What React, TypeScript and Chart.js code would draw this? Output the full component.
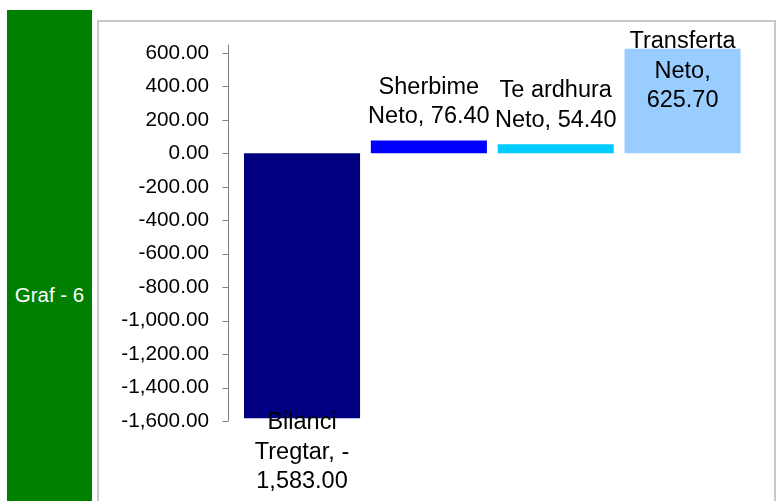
import React, { useEffect, useRef } from "react";
import { Chart, registerables } from "chart.js";

Chart.register(...registerables);

const categories = ["Bilanci Tregtar", "Sherbime Neto", "Te ardhura Neto", "Transferta Neto"];
const values = [-1583.0, 76.4, 54.4, 625.7];
const barColors = ["#000080", "#0000FF", "#00CCFF", "#99CCFF"];
const yTickValues = [600, 400, 200, 0, -200, -400, -600, -800, -1000, -1200, -1400, -1600];
const yMin = -1600;
const yMax = 650;
const sideTitle = "Graf - 6";

const FONT = "'Liberation Sans', Arial, Helvetica, sans-serif";

function fmt(v: number): string {
  return v.toLocaleString("en-US", { minimumFractionDigits: 2, maximumFractionDigits: 2 });
}

function wrap(ctx: CanvasRenderingContext2D, text: string, maxW: number): string[] {
  const units: { t: string; sep: string }[] = [];
  text.split(" ").forEach((word, wi) => {
    const parts = word.split(/(?<=-)/);
    parts.forEach((p, pi) => {
      if (p.length) units.push({ t: p, sep: wi > 0 && pi === 0 ? " " : "" });
    });
  });
  const lines: string[] = [];
  let line = "";
  units.forEach((u, i) => {
    if (i === 0) {
      line = u.t;
      return;
    }
    const cand = line + u.sep + u.t;
    if (ctx.measureText(cand).width <= maxW) line = cand;
    else {
      lines.push(line);
      line = u.t;
    }
  });
  if (line) lines.push(line);
  return lines;
}

const axisPlugin = {
  id: "excelAxis",
  afterDatasetsDraw(chart: any) {
    const { ctx, chartArea, scales } = chart;
    const y = scales.y;
    const x0 = Math.floor(chartArea.left - 10) + 0.5;
    ctx.save();
    ctx.strokeStyle = "#808080";
    ctx.lineWidth = 1;
    ctx.beginPath();
    ctx.moveTo(x0, chartArea.top);
    ctx.lineTo(x0, chartArea.bottom);
    yTickValues.forEach((v) => {
      const py = Math.round(y.getPixelForValue(v)) + 0.5;
      ctx.moveTo(x0 - 6, py);
      ctx.lineTo(x0, py);
    });
    ctx.stroke();
    ctx.restore();
  },
};

const labelPlugin = {
  id: "excelLabels",
  afterDatasetsDraw(chart: any) {
    const { ctx, chartArea } = chart;
    const meta = chart.getDatasetMeta(0);
    ctx.save();
    ctx.font = `23.5px ${FONT}`;
    ctx.fillStyle = "#000000";
    ctx.textAlign = "center";
    ctx.textBaseline = "alphabetic";
    const lh = 29.5;
    meta.data.forEach((bar: any, i: number) => {
      const v = values[i];
      const lines = wrap(ctx, `${categories[i]}, ${fmt(v)}`, 128);
      let first: number;
      if (v >= 0) {
        const last = bar.y - 17.5;
        first = last - (lines.length - 1) * lh;
        const minFirst = chartArea.top + 3.5;
        if (first < minFirst) first = minFirst;
      } else {
        first = bar.y + 11;
      }
      lines.forEach((l, k) => ctx.fillText(l, bar.x, first + k * lh));
    });
    ctx.restore();
  },
};

export default function App() {
  const canvasRef = useRef<HTMLCanvasElement | null>(null);

  useEffect(() => {
    if (!canvasRef.current) return;
    const chart = new Chart(canvasRef.current, {
      type: "bar",
      data: {
        labels: categories,
        datasets: [
          {
            data: values,
            backgroundColor: barColors,
            borderWidth: 0,
            barPercentage: 0.915,
            categoryPercentage: 1,
          },
        ],
      },
      options: {
        responsive: false,
        animation: false,
        devicePixelRatio: 1,
        layout: { padding: { left: 0, top: 44.6, bottom: 80, right: 32 } },
        plugins: { legend: { display: false }, tooltip: { enabled: false } },
        scales: {
          x: { type: "category", display: false, offset: true },
          y: {
            min: yMin,
            max: yMax,
            afterFit: (axis: any) => {
              axis.width = 238.6;
            },
            afterBuildTicks: (axis: any) => {
              axis.ticks = yTickValues.map((v) => ({ value: v }));
            },
            grid: { display: false, drawTicks: false },
            border: { display: false },
            ticks: {
              padding: 29.6,
              color: "#000000",
              font: { family: FONT, size: 20.75 },
              callback: (value: any) => fmt(Number(value)),
            },
          },
        },
      },
      plugins: [axisPlugin, labelPlugin],
    });
    return () => chart.destroy();
  }, []);

  return (
    <div
      style={{
        position: "fixed",
        left: 0,
        top: 0,
        width: 778,
        height: 501,
        overflow: "hidden",
        background: "#ffffff",
      }}
    >
      <div
        style={{
          position: "absolute",
          left: 7,
          top: 10,
          width: 85,
          height: 569,
          background: "#008000",
          color: "#ffffff",
          display: "flex",
          alignItems: "center",
          justifyContent: "center",
          font: `20.5px ${FONT}`,
          whiteSpace: "nowrap",
        }}
      >
        {sideTitle}
      </div>
      <div
        style={{
          position: "absolute",
          left: 97,
          top: 20,
          width: 679,
          height: 600,
          border: "2px solid #c8c8c8",
          boxSizing: "border-box",
        }}
      />
      <canvas
        ref={canvasRef}
        width={778}
        height={501}
        style={{ position: "absolute", left: 0, top: 0, width: 778, height: 501 }}
      />
    </div>
  );
}
